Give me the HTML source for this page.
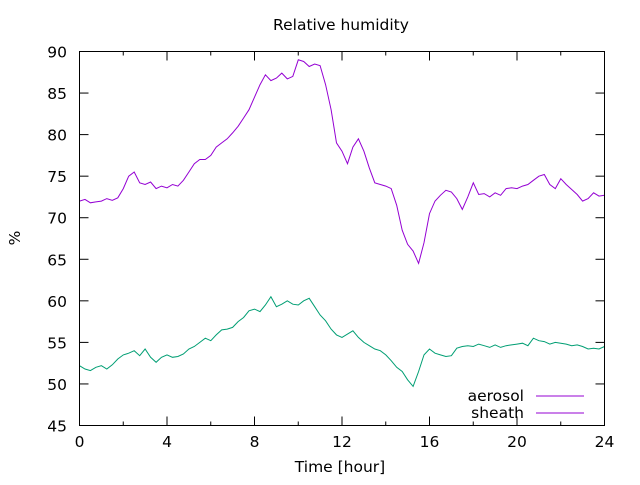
<!DOCTYPE html>
<html><head><meta charset="utf-8">
<style>
body{margin:0;background:#fff;}
svg text{font-family:"DejaVu Sans","Liberation Sans",sans-serif;font-size:15.5px;fill:#000;}
</style></head>
<body>
<svg id="chart" width="640" height="480">
<rect x="0" y="0" width="640" height="480" fill="#fff"/>
<text x="341" y="30" text-anchor="middle">Relative humidity</text>
<text x="340" y="472" text-anchor="middle">Time [hour]</text>
<text x="20" y="238" text-anchor="middle" transform="rotate(-90 20 238)">%</text>
<g id="axes"></g>
<g id="series"></g>
<g>
<text x="524" y="401" text-anchor="end">aerosol</text>
<line x1="536" y1="396" x2="584" y2="396" stroke="#9400d3" stroke-width="1"/>
<text x="524" y="418" text-anchor="end">sheath</text>
<line x1="536" y1="413" x2="584" y2="413" stroke="#9400d3" stroke-width="1"/>
</g>
<rect x="79.5" y="51.5" width="525" height="374" fill="none" stroke="#000" stroke-width="1"/>
</svg>
<script>
const xTicks=[0,4,8,12,16,20,24];
const yTicks=[45,50,55,60,65,70,75,80,85,90];
const times=[];for(let i=0;i<=96;i++)times.push(i*0.25);
const aerosol=[72,72.2,71.8,71.9,72,72.3,72.1,72.4,73.5,75,75.5,74.2,74,74.3,73.5,73.8,73.6,74,73.8,74.5,75.5,76.5,77,77,77.5,78.5,79,79.5,80.2,81,82,83,84.5,86,87.2,86.5,86.8,87.4,86.7,87,89,88.8,88.2,88.5,88.3,86,83,79,78,76.5,78.5,79.5,78,76,74.2,74,73.8,73.5,71.5,68.5,66.8,66,64.5,67,70.5,72,72.7,73.3,73.1,72.3,71,72.5,74.2,72.8,72.9,72.5,73,72.7,73.5,73.6,73.5,73.8,74,74.5,75,75.2,74,73.5,74.7,74,73.4,72.8,72,72.3,73,72.6,72.7];
const sheath=[52.2,51.8,51.6,52,52.2,51.8,52.3,53,53.5,53.7,54,53.4,54.2,53.2,52.6,53.2,53.5,53.2,53.3,53.6,54.2,54.5,55,55.5,55.2,55.9,56.5,56.6,56.8,57.5,58,58.8,59,58.7,59.5,60.5,59.3,59.6,60,59.6,59.5,60,60.3,59.3,58.3,57.6,56.6,55.9,55.6,56,56.4,55.6,55,54.6,54.2,54,53.5,52.8,52,51.5,50.5,49.7,51.5,53.5,54.2,53.7,53.5,53.3,53.4,54.3,54.5,54.6,54.5,54.8,54.6,54.4,54.7,54.4,54.6,54.7,54.8,54.9,54.6,55.5,55.2,55.1,54.8,55,54.9,54.8,54.6,54.7,54.5,54.2,54.3,54.2,54.5];
const X0=79.5,X1=604.5,Y0=425.5,Y1=51.5;
const xs=t=>X0+(t-0)/24*(X1-X0);
const ys=v=>Y0-(v-45)/45*(Y0-Y1);
const NS="http://www.w3.org/2000/svg";
const axes=document.getElementById('axes');
function mk(tag,attrs,parent){const e=document.createElementNS(NS,tag);for(const k in attrs)e.setAttribute(k,attrs[k]);parent.appendChild(e);return e;}
xTicks.forEach(t=>{
  const x=xs(t);
  const a=mk('line',{x1:x,y1:Y0,x2:x,y2:Y0-9,stroke:'#000'},axes);
  
  
  const b=mk('line',{x1:x,y1:Y1,x2:x,y2:Y1+9,stroke:'#000'},axes);
  
  
  const l=mk('text',{x:x,y:447,'text-anchor':'middle'},axes);
  l.textContent=t;
  
  
});
for(let t=0;t<=24;t+=2){ if(t%4===0)continue;
  const x=xs(t);
  const a=mk('line',{x1:x,y1:Y0,x2:x,y2:Y0-4,stroke:'#000'},axes);
  
  
  const b=mk('line',{x1:x,y1:Y1,x2:x,y2:Y1+4,stroke:'#000'},axes);
  
  
}
yTicks.forEach(v=>{
  const y=ys(v);
  const a=mk('line',{x1:X0,y1:y,x2:X0+9,y2:y,stroke:'#000'},axes);
  
  
  const b=mk('line',{x1:X1,y1:y,x2:X1-9,y2:y,stroke:'#000'},axes);
  
  
  const l=mk('text',{x:67,y:y+6,'text-anchor':'end'},axes);
  l.textContent=v;
  
  
});
const ser=document.getElementById('series');
function path(vals,color,name){
  const d=vals.map((v,i)=>(i?'L':'M')+xs(times[i]).toFixed(1)+' '+ys(v).toFixed(1)).join(' ');
  const p=mk('path',{d:d,fill:'none',stroke:color,'stroke-width':1},ser);
  
  
}
path(aerosol,'#9400d3','aerosol-line');
path(sheath,'#009e73','sheath-line');
</script>
</body></html>
